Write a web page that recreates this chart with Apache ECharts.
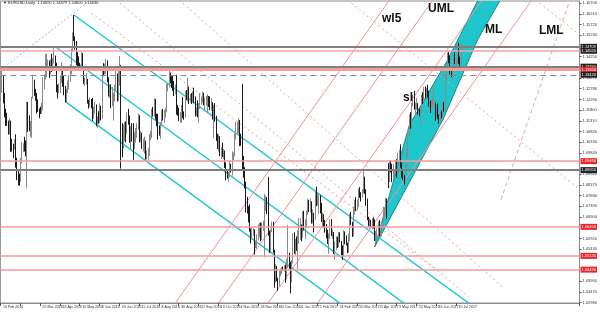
<!DOCTYPE html>
<html><head><meta charset="utf-8">
<script src="https://cdn.jsdelivr.net/npm/echarts@6/dist/echarts.min.js"></script>
<style>html,body{margin:0;padding:0;background:#fff}#c{width:600px;height:313px}</style>
</head><body><div id="c"></div>
<script>
// ---- data ----
const startDate = '2016-02-10';
const totalSlots = 468; // trading-day slots shown on the axis (incl. empty right shift)
// daily bars [open, high, low, close]
const ohlc = [
[1.1290,1.1339,1.1218,1.1290],[1.1290,1.1376,1.1260,1.1324],[1.1324,1.1338,1.1211,1.1253],
[1.1253,1.1258,1.1147,1.1152],[1.1152,1.1187,1.1107,1.1145],[1.1145,1.1168,1.1108,1.1128],[1.1128,1.1132,1.1068,1.1103],[1.1103,1.1143,1.1068,1.1130],
[1.1130,1.1132,1.0989,1.1025],[1.1025,1.1048,1.0990,1.1016],[1.1016,1.1026,1.0960,1.1015],[1.1015,1.1046,1.0998,1.1022],[1.1022,1.1069,1.0916,1.0932],
[1.0932,1.0962,1.0859,1.0871],[1.0871,1.0905,1.0835,1.0867],[1.0867,1.0889,1.0833,1.0860],[1.0860,1.0960,1.0852,1.0952],[1.0952,1.1034,1.0935,1.1004],
[1.1004,1.1028,1.0987,1.1013],[1.1013,1.1058,1.0990,1.1009],[1.1009,1.1041,1.0968,1.0997],[1.0997,1.1218,1.0822,1.1178],[1.1178,1.1217,1.1080,1.1153],
[1.1153,1.1156,1.1083,1.1105],[1.1105,1.1130,1.1058,1.1107],[1.1107,1.1241,1.1053,1.1233],[1.1233,1.1342,1.1232,1.1311],[1.1311,1.1319,1.1245,1.1268],
[1.1268,1.1277,1.1223,1.1241],[1.1241,1.1259,1.1164,1.1218],[1.1218,1.1229,1.1172,1.1180],[1.1180,1.1188,1.1143,1.1178],[1.1178,1.1196,1.1162,1.1168],
[1.1168,1.1214,1.1163,1.1199],[1.1199,1.1330,1.1180,1.1298],[1.1298,1.1343,1.1275,1.1331],[1.1331,1.1437,1.1321,1.1380],[1.1380,1.1439,1.1330,1.1392],
[1.1392,1.1412,1.1364,1.1392],[1.1392,1.1408,1.1327,1.1385],[1.1385,1.1413,1.1344,1.1404],[1.1404,1.1438,1.1354,1.1378],[1.1378,1.1418,1.1359,1.1397],
[1.1397,1.1465,1.1393,1.1411],[1.1411,1.1430,1.1370,1.1389],[1.1389,1.1397,1.1262,1.1273],[1.1273,1.1297,1.1233,1.1268],[1.1268,1.1303,1.1257,1.1285],
[1.1285,1.1337,1.1259,1.1314],[1.1314,1.1400,1.1305,1.1356],[1.1356,1.1378,1.1287,1.1291],[1.1291,1.1338,1.1248,1.1287],[1.1287,1.1292,1.1215,1.1226],
[1.1226,1.1278,1.1215,1.1268],[1.1268,1.1316,1.1259,1.1298],[1.1298,1.1340,1.1274,1.1328],[1.1328,1.1389,1.1309,1.1358],[1.1358,1.1463,1.1345,1.1454],
[1.1454,1.1536,1.1445,1.1530],[1.1530,1.1616,1.1497,1.1500],[1.1500,1.1518,1.1457,1.1490],[1.1490,1.1497,1.1386,1.1404],[1.1404,1.1445,1.1366,1.1400],
[1.1400,1.1426,1.1364,1.1383],[1.1383,1.1397,1.1362,1.1380],[1.1380,1.1448,1.1376,1.1434],[1.1434,1.1441,1.1368,1.1372],[1.1372,1.1377,1.1300,1.1311],
[1.1311,1.1329,1.1291,1.1312],[1.1312,1.1349,1.1297,1.1314],[1.1314,1.1323,1.1210,1.1214],[1.1214,1.1227,1.1187,1.1205],[1.1205,1.1237,1.1194,1.1221],
[1.1221,1.1231,1.1188,1.1220],[1.1220,1.1236,1.1130,1.1142],[1.1142,1.1194,1.1141,1.1189],[1.1189,1.1216,1.1164,1.1192],[1.1192,1.1206,1.1106,1.1114],
[1.1114,1.1151,1.1098,1.1138],[1.1138,1.1175,1.1118,1.1130],[1.1130,1.1212,1.1122,1.1184],[1.1184,1.1200,1.1133,1.1152],[1.1152,1.1374,1.1140,1.1365],
[1.1365,1.1395,1.1335,1.1355],[1.1355,1.1393,1.1343,1.1356],[1.1356,1.1416,1.1346,1.1395],[1.1395,1.1408,1.1308,1.1314],[1.1314,1.1330,1.1242,1.1253],
[1.1253,1.1298,1.1236,1.1289],[1.1289,1.1298,1.1188,1.1212],[1.1212,1.1286,1.1198,1.1213],[1.1213,1.1260,1.1132,1.1241],[1.1241,1.1296,1.1220,1.1278],
[1.1278,1.1383,1.1272,1.1318],[1.1318,1.1348,1.1219,1.1251],[1.1251,1.1359,1.1224,1.1297],[1.1297,1.1427,1.1292,1.1386],[1.1386,1.1386,1.0912,1.1117],
[1.1117,1.1120,1.0964,1.1019],[1.1019,1.1114,1.1005,1.1069],[1.1069,1.1125,1.1037,1.1124],[1.1124,1.1128,1.1032,1.1104],[1.1104,1.1168,1.1069,1.1137],
[1.1137,1.1186,1.1113,1.1136],[1.1136,1.1155,1.1030,1.1070],[1.1070,1.1107,1.1000,1.1095],[1.1095,1.1120,1.1035,1.1058],[1.1058,1.1120,1.0952,1.1051],
[1.1051,1.1078,1.1001,1.1054],[1.1054,1.1097,1.1031,1.1060],[1.1060,1.1120,1.1053,1.1119],[1.1119,1.1165,1.1089,1.1126],[1.1126,1.1157,1.1032,1.1040],
[1.1040,1.1084,1.1035,1.1072],[1.1072,1.1076,1.1002,1.1024],[1.1024,1.1050,1.0990,1.1024],[1.1024,1.1059,1.0980,1.1030],[1.1030,1.1040,1.0954,1.0977],
[1.0977,1.0995,1.0953,1.0990],[1.0990,1.1007,1.0952,1.0995],[1.0995,1.1070,1.0970,1.1059],[1.1059,1.1084,1.1042,1.1074],[1.1074,1.1185,1.1053,1.1173],
[1.1173,1.1195,1.1150,1.1164],[1.1164,1.1234,1.1149,1.1224],[1.1224,1.1231,1.1136,1.1151],[1.1151,1.1164,1.1106,1.1131],[1.1131,1.1163,1.1045,1.1086],
[1.1086,1.1110,1.1063,1.1080],[1.1080,1.1125,1.1048,1.1111],[1.1111,1.1180,1.1106,1.1175],[1.1175,1.1185,1.1132,1.1139],[1.1139,1.1180,1.1122,1.1161],
[1.1161,1.1190,1.1145,1.1183],[1.1183,1.1300,1.1170,1.1285],[1.1285,1.1302,1.1265,1.1289],[1.1289,1.1365,1.1283,1.1350],[1.1350,1.1352,1.1302,1.1325],
[1.1325,1.1335,1.1282,1.1314],[1.1314,1.1338,1.1268,1.1307],[1.1307,1.1314,1.1244,1.1265],[1.1265,1.1298,1.1254,1.1285],[1.1285,1.1342,1.1159,1.1198],
[1.1198,1.1204,1.1154,1.1189],[1.1189,1.1191,1.1130,1.1147],[1.1147,1.1171,1.1121,1.1158],[1.1158,1.1204,1.1123,1.1196],[1.1196,1.1240,1.1143,1.1154],
[1.1154,1.1174,1.1136,1.1150],[1.1150,1.1268,1.1146,1.1256],[1.1256,1.1272,1.1225,1.1239],[1.1239,1.1327,1.1219,1.1263],[1.1263,1.1287,1.1208,1.1233],
[1.1233,1.1254,1.1214,1.1240],[1.1240,1.1258,1.1208,1.1219],[1.1219,1.1266,1.1215,1.1246],[1.1246,1.1283,1.1211,1.1240],[1.1240,1.1243,1.1151,1.1156],
[1.1156,1.1193,1.1152,1.1168],[1.1168,1.1225,1.1147,1.1155],[1.1155,1.1212,1.1121,1.1188],[1.1188,1.1258,1.1185,1.1210],[1.1210,1.1242,1.1205,1.1226],
[1.1226,1.1265,1.1214,1.1251],[1.1251,1.1259,1.1202,1.1214],[1.1214,1.1234,1.1180,1.1220],[1.1220,1.1245,1.1200,1.1222],[1.1222,1.1252,1.1166,1.1240],
[1.1240,1.1245,1.1194,1.1210],[1.1210,1.1243,1.1180,1.1202],[1.1202,1.1235,1.1177,1.1205],[1.1205,1.1216,1.1137,1.1157],[1.1157,1.1204,1.1050,1.1202],
[1.1202,1.1212,1.1127,1.1143],[1.1143,1.1154,1.1039,1.1051],[1.1051,1.1072,1.1002,1.1004],[1.1004,1.1068,1.0990,1.1058],[1.1058,1.1061,1.0969,1.0972],
[1.0972,1.1010,1.0957,1.0999],[1.0999,1.1031,1.0965,1.0975],[1.0975,1.1002,1.0955,1.0975],[1.0975,1.0995,1.0915,1.0928],[1.0928,1.0940,1.0858,1.0884],
[1.0884,1.0905,1.0866,1.0880],[1.0880,1.0897,1.0851,1.0883],[1.0883,1.0947,1.0873,1.0922],[1.0922,1.0934,1.0894,1.0900],[1.0900,1.0991,1.0880,1.0965],
[1.0965,1.0986,1.0950,1.0980],[1.0980,1.1072,1.0967,1.1056],[1.1056,1.1125,1.1045,1.1097],[1.1097,1.1127,1.1065,1.1102],[1.1102,1.1143,1.1072,1.1132],
[1.1132,1.1135,1.1015,1.1036],[1.1036,1.1072,1.1016,1.1027],[1.1027,1.1300,1.0906,1.0925],[1.0925,1.0970,1.0870,1.0897],[1.0897,1.0918,1.0821,1.0852],
[1.0852,1.0852,1.0711,1.0735],[1.0735,1.0782,1.0706,1.0718],[1.0718,1.0740,1.0665,1.0692],[1.0692,1.0748,1.0623,1.0629],[1.0629,1.0638,1.0569,1.0588],
[1.0588,1.0639,1.0587,1.0628],[1.0628,1.0640,1.0604,1.0632],[1.0632,1.0634,1.0518,1.0555],[1.0555,1.0581,1.0547,1.0567],[1.0567,1.0612,1.0546,1.0590],
[1.0590,1.0656,1.0583,1.0612],[1.0612,1.0664,1.0596,1.0648],[1.0648,1.0664,1.0579,1.0586],[1.0586,1.0666,1.0584,1.0661],[1.0661,1.0674,1.0626,1.0664],
[1.0664,1.0796,1.0505,1.0740],[1.0740,1.0787,1.0717,1.0765],[1.0765,1.0781,1.0704,1.0757],[1.0757,1.0874,1.0604,1.0612],[1.0612,1.0627,1.0525,1.0560],
[1.0560,1.0632,1.0524,1.0627],[1.0627,1.0669,1.0621,1.0633],[1.0633,1.0668,1.0526,1.0536],[1.0536,1.0540,1.0366,1.0421],[1.0421,1.0474,1.0391,1.0448],
[1.0448,1.0466,1.0396,1.0402],[1.0402,1.0412,1.0352,1.0386],[1.0386,1.0443,1.0374,1.0423],[1.0423,1.0454,1.0419,1.0433],[1.0433,1.0462,1.0429,1.0455],
[1.0455,1.0463,1.0443,1.0452],[1.0452,1.0468,1.0440,1.0457],[1.0457,1.0472,1.0389,1.0410],[1.0410,1.0498,1.0405,1.0491],[1.0491,1.0654,1.0456,1.0514],
[1.0514,1.0527,1.0453,1.0459],[1.0459,1.0485,1.0340,1.0402],[1.0402,1.0493,1.0389,1.0486],[1.0486,1.0615,1.0476,1.0605],[1.0605,1.0620,1.0521,1.0530],
[1.0530,1.0590,1.0515,1.0571],[1.0571,1.0601,1.0535,1.0555],[1.0555,1.0629,1.0452,1.0588],[1.0588,1.0685,1.0568,1.0613],[1.0613,1.0685,1.0585,1.0640],
[1.0620,1.0656,1.0579,1.0605],[1.0605,1.0718,1.0595,1.0710],[1.0710,1.0718,1.0628,1.0638],[1.0638,1.0680,1.0589,1.0660],[1.0660,1.0719,1.0640,1.0703],
[1.0703,1.0774,1.0701,1.0757],[1.0757,1.0769,1.0713,1.0730],[1.0730,1.0776,1.0710,1.0750],[1.0750,1.0762,1.0660,1.0677],[1.0677,1.0725,1.0661,1.0699],
[1.0699,1.0709,1.0619,1.0695],[1.0695,1.0811,1.0678,1.0798],[1.0798,1.0829,1.0739,1.0760],[1.0760,1.0797,1.0743,1.0765],[1.0765,1.0793,1.0704,1.0782],
[1.0782,1.0790,1.0707,1.0748],[1.0748,1.0755,1.0667,1.0685],[1.0685,1.0710,1.0641,1.0698],[1.0698,1.0703,1.0643,1.0656],[1.0656,1.0677,1.0618,1.0639],
[1.0639,1.0658,1.0592,1.0600],[1.0600,1.0632,1.0566,1.0577],[1.0577,1.0615,1.0521,1.0605],[1.0605,1.0679,1.0590,1.0669],[1.0669,1.0681,1.0603,1.0615],
[1.0615,1.0633,1.0590,1.0616],[1.0616,1.0621,1.0521,1.0540],[1.0540,1.0578,1.0494,1.0558],[1.0558,1.0601,1.0540,1.0587],[1.0587,1.0600,1.0548,1.0560],
[1.0560,1.0622,1.0552,1.0605],[1.0605,1.0620,1.0573,1.0575],[1.0575,1.0580,1.0515,1.0545],[1.0545,1.0560,1.0494,1.0510],[1.0510,1.0630,1.0507,1.0621],
[1.0621,1.0624,1.0565,1.0583],[1.0583,1.0606,1.0560,1.0567],[1.0567,1.0573,1.0525,1.0544],[1.0544,1.0615,1.0526,1.0582],[1.0582,1.0705,1.0578,1.0672],
[1.0672,1.0714,1.0654,1.0658],[1.0658,1.0668,1.0599,1.0605],[1.0605,1.0736,1.0600,1.0733],[1.0733,1.0767,1.0701,1.0764],[1.0764,1.0781,1.0717,1.0736],
[1.0736,1.0770,1.0722,1.0742],[1.0742,1.0819,1.0735,1.0809],[1.0809,1.0827,1.0778,1.0797],[1.0797,1.0804,1.0761,1.0782],[1.0782,1.0818,1.0778,1.0798],
[1.0798,1.0906,1.0797,1.0866],[1.0866,1.0875,1.0796,1.0813],[1.0813,1.0818,1.0741,1.0765],[1.0765,1.0774,1.0676,1.0679],[1.0679,1.0691,1.0647,1.0652],
[1.0652,1.0683,1.0637,1.0667],[1.0667,1.0677,1.0641,1.0643],[1.0643,1.0685,1.0633,1.0663],[1.0663,1.0688,1.0637,1.0646],[1.0646,1.0679,1.0581,1.0594],
[1.0594,1.0626,1.0570,1.0601],[1.0601,1.0637,1.0581,1.0611],[1.0611,1.0670,1.0596,1.0666],[1.0666,1.0677,1.0602,1.0613],[1.0613,1.0625,1.0602,1.0616],
[1.0616,1.0668,1.0601,1.0645],[1.0645,1.0737,1.0635,1.0714],[1.0714,1.0736,1.0689,1.0716],[1.0716,1.0778,1.0697,1.0775],[1.0775,1.0775,1.0682,1.0726],
[1.0860,1.0937,1.0822,1.0856],[1.0856,1.0946,1.0850,1.0929],[1.0929,1.0949,1.0894,1.0909],[1.0909,1.0934,1.0851,1.0871],[1.0871,1.0933,1.0864,1.0894],
[1.0894,1.0910,1.0877,1.0903],[1.0903,1.0951,1.0895,1.0930],[1.0930,1.0955,1.0871,1.0884],[1.0884,1.0985,1.0869,1.0982],[1.0982,1.0999,1.0944,1.0998],
[1.0998,1.1023,1.0916,1.0925],[1.0925,1.0939,1.0870,1.0876],[1.0876,1.0900,1.0860,1.0872],[1.0872,1.0882,1.0838,1.0865],[1.0865,1.0935,1.0854,1.0932],
[1.0932,1.0999,1.0918,1.0980],[1.0980,1.1085,1.0963,1.1080],[1.1080,1.1161,1.1056,1.1157],[1.1157,1.1171,1.1094,1.1101],[1.1101,1.1213,1.1097,1.1207],
[1.1207,1.1249,1.1198,1.1244],[1.1244,1.1268,1.1182,1.1185],[1.1185,1.1215,1.1165,1.1185],[1.1185,1.1236,1.1182,1.1211],[1.1211,1.1212,1.1160,1.1183],
[1.1183,1.1187,1.1152,1.1165],[1.1165,1.1190,1.1110,1.1182],[1.1182,1.1251,1.1169,1.1244],[1.1244,1.1262,1.1208,1.1214],[1.1214,1.1285,1.1208,1.1280],
[1.1280,1.1289,1.1233,1.1250],[1.1250,1.1282,1.1235,1.1276],[1.1276,1.1296,1.1237,1.1260],[1.1260,1.1269,1.1196,1.1211],[1.1211,1.1224,1.1167,1.1196],
[1.1196,1.1223,1.1183,1.1200],[1.1200,1.1238,1.1192,1.1213],[1.1213,1.1296,1.1191,1.1215],[1.1215,1.1215,1.1131,1.1154],[1.1154,1.1207,1.1141,1.1199],
[1.1199,1.1210,1.1140,1.1145],[1.1145,1.1160,1.1118,1.1133],[1.1133,1.1171,1.1120,1.1166],[1.1166,1.1178,1.1142,1.1153],[1.1153,1.1212,1.1145,1.1193],
[1.1193,1.1217,1.1173,1.1182],[1.1182,1.1349,1.1171,1.1339],[1.1339,1.1389,1.1311,1.1372],[1.1372,1.1445,1.1361,1.1440],[1.1440,1.1446,1.1395,1.1425],
[1.1425,1.1430,1.1343,1.1358],[1.1358,1.1363,1.1331,1.1346],[1.1346,1.1368,1.1313,1.1350],[1.1350,1.1434,1.1342,1.1422],[1.1422,1.1445,1.1391,1.1400],
[1.1400,1.1419,1.1379,1.1400],[1.1400,1.1480,1.1391,1.1466],[1.1466,1.1489,1.1392,1.1413],[1.1413,1.1425,1.1375,1.1397],[1.1397,1.1479,1.1387,1.1470],
[1.1470,1.1487,1.1455,1.1478]
];
// price axis tick labels (right scale)
const yTickValues = [1.02980,1.03470,1.03960,1.05430,1.05920,1.06900,1.07390,1.07880,1.08370,1.08860,1.09840,1.10330,1.10820,1.11310,1.11800,1.12290,1.12780,1.13270,1.14250,1.15230,1.15720,1.16210,1.16700];
// horizontal levels and their kind
const levelPrices = [1.1470,1.1452,1.1379,1.1365,1.1342,1.0946,1.0905,1.0645,1.0512,1.0449];
const levelKinds  = ['gray','grayPink','gray','pinkThick','dash','pink','gray','pink','pink','pink'];
// descending (teal) channel lines: [[barIndex, price],[barIndex, price]]
const tealLines = [
  [[59,1.1616],[420,1.0121]],
  [[45,1.1466],[370,1.0110]],
  [[52,1.1219],[320,1.0103]]
];
// handle line (dotted, light blue)
const handleLine = [[0,1.1365],[72,1.1684]];
// cyan area (polygon vertices [barIndex, price])
const fanPoly = [[301.9,1.0553],[329.9,1.1112],[359.5,1.1401],[385.9,1.1690],[403.5,1.1690],[385.1,1.1501],[357.1,1.1135]];
// ascending pink pitchfork lines (solid): wl5, UML, ML, LML
const pinkUp = [
  [[141.1,1.0297],[313.9,1.1685]],
  [[176.3,1.0297],[349.1,1.1685]],
  [[216.3,1.0297],[389.1,1.1685]],
  [[256.3,1.0297],[429.1,1.1685]]
];
// ascending pink dashed line
const pinkUpDash = [
  [[403.5,1.0769],[459.5,1.1690]]
];
// descending pink dotted lines
const pinkDown = [
  [[73,1.1625],[351.5,1.0448]],
  [[93,1.1685],[378,1.0324]],
  [[143.5,1.1685],[406,1.0366]],
  [[279.5,1.1685],[467.5,1.0814]],
  [[431.5,1.1685],[467.5,1.1524]]
];
const labelTexts = ['wl5','UML','ML','LML','sl'];
const titleText = 'EURUSD,Daily  1.14690 1.14879 1.14600 1.14636';

// ---- build ----
const MON = ['Jan','Feb','Mar','Apr','May','Jun','Jul','Aug','Sep','Oct','Nov','Dec'];
const cats = [];
{ let d = new Date(startDate + 'T00:00:00Z');
  while (cats.length < totalSlots) { const w = d.getUTCDay();
    if (w !== 0 && w !== 6) cats.push(d.getUTCDate() + ' ' + MON[d.getUTCMonth()] + ' ' + d.getUTCFullYear());
    d.setUTCDate(d.getUTCDate() + 1); } }
const lastBar = ohlc.length - 1;
const candleData = ohlc.map(r => [r[0], r[3], r[2], r[1]]);

const levelStyle = {
  gray: {color:'#7f7f7f', width:2, type:'solid', box:'#222'},
  grayPink: {color:'#f4a3a3', width:1.5, type:'solid', box:'#222'},
  pinkThick: {color:'#f39c9c', width:3, type:'solid', box:'#e8262a'},
  pink: {color:'#f39c9c', width:1.5, type:'solid', box:'#e8262a'},
  dash: {color:'#8a8a8a', width:1, type:[6,4], box:'#222'}
};
const markLines = levelPrices.map((p,i) => { const s = levelStyle[levelKinds[i]];
  return { yAxis: p, lineStyle:{color:s.color, width:s.width, type:s.type},
    label:{show:true, position:'end', distance:1, formatter: p.toFixed(5), color:'#fff', backgroundColor:s.box, fontSize:4, padding:[1,1], fontFamily:'Liberation Sans'} }; });

const series = [];
series.push({ type:'custom', name:'fan', z:1, clip:true,
  renderItem: (params, api) => {
    const pts = fanPoly.map(p => api.coord(p));
    return { type:'polygon', shape:{points:pts}, style:{fill:'#1fc6cc', stroke:'#0b8f96', lineWidth:1} };
  }, data:[0], silent:true });
series.push({ type:'candlestick', name:'EURUSD', z:3, data:candleData, barWidth:1,
  itemStyle:{color:'#ffffff', color0:'#1a1a1a', borderColor:'#8a8a8a', borderColor0:'#1a1a1a', borderWidth:1},
  markLine:{ silent:true, precision:5, symbol:['none','none'], animation:false, data: markLines } });
tealLines.forEach(l => series.push({ type:'line', data:l, symbol:'none', z:2, clip:true,
  lineStyle:{color:'#17c9cf', width:1.4}, silent:true, animation:false }));
series.push({ type:'line', data:handleLine, symbol:'none', z:2, lineStyle:{color:'#9db3d8', width:1, type:[2,2]}, animation:false });
pinkUp.forEach(l => series.push({ type:'line', data:l, symbol:'none', z:2, clip:true,
  lineStyle:{color:'#f39090', width:1}, animation:false }));
pinkUpDash.forEach(l => series.push({ type:'line', data:l, symbol:'none', z:2, clip:true,
  lineStyle:{color:'#f4a0a0', width:1, type:[4,3]}, animation:false }));
pinkDown.forEach(l => series.push({ type:'line', data:l, symbol:'none', z:2, clip:true,
  lineStyle:{color:'#f29a9a', width:1, type:[2,3]}, animation:false }));

const lblFont = 'bold 12px "Liberation Sans"';
const chart = echarts.init(document.getElementById('c'), null, {renderer:'canvas'});
chart.setOption({
  animation:false,
  backgroundColor:'#ffffff',
  grid:{left:0, right:15, top:1, bottom:10, show:true, borderColor:'#8c8c8c', borderWidth:1},
  xAxis:{ type:'category', data:cats, boundaryGap:true,
    axisLine:{lineStyle:{color:'#8c8c8c'}},
    axisTick:{ show:true, interval:(i)=> i%16===0 && i<=lastBar, length:3, lineStyle:{color:'#555'} },
    axisLabel:{ interval:(i)=> i%16===0 && i<=lastBar, showMinLabel:true, align:'left', margin:2, fontSize:3.6, color:'#333', fontFamily:'Liberation Sans', padding:[0,0,0,2] },
    splitLine:{show:false} },
  yAxis:{ type:'value', position:'right', min:1.0296, max:1.1680, scale:true,
    axisLine:{show:true, lineStyle:{color:'#8c8c8c'}},
    axisTick:{show:true, length:2, customValues:yTickValues, lineStyle:{color:'#555'}},
    axisLabel:{ customValues:yTickValues, formatter:v=>v.toFixed(5), fontSize:4, color:'#333', margin:3, fontFamily:'Liberation Sans' },
    splitLine:{show:false} },
  graphic:[
    {type:'text', z:100, left:3, top:1, style:{text:'▼ ' + titleText, fontSize:4, fill:'#222', fontFamily:'Liberation Sans'}},
    {type:'text', z:100, left:382, top:13, style:{text:labelTexts[0], font:lblFont, fill:'#111'}},
    {type:'text', z:100, left:428, top:3, style:{text:labelTexts[1], font:lblFont, fill:'#111'}},
    {type:'text', z:100, left:485, top:24, style:{text:labelTexts[2], font:lblFont, fill:'#111'}},
    {type:'text', z:100, left:539, top:25, style:{text:labelTexts[3], font:lblFont, fill:'#111'}},
    {type:'text', z:100, left:403, top:92, style:{text:labelTexts[4], font:lblFont, fill:'#111'}}
  ],
  series
});
</script></body></html>
